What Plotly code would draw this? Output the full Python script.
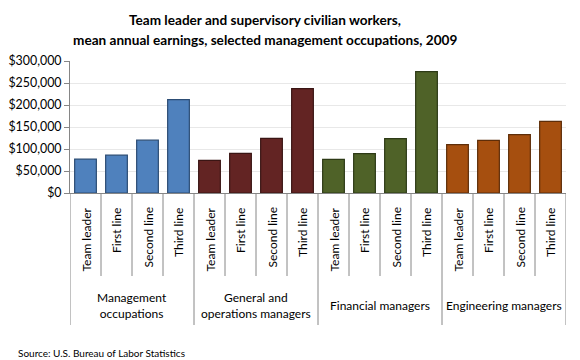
import plotly.graph_objects as go

groups = ["Management<br>occupations", "General and<br>operations managers",
          "Financial managers", "Engineering managers"]
levels = ["Team leader", "First line", "Second line", "Third line"]
colors = ["#4F81BD", "#632423", "#4F6228", "#A64F0F"]
edge_colors = ["#2C4D75", "#3A1514", "#2D3A16", "#5E2D08"]

earnings = {
    "Management<br>occupations": [77000, 86000, 120000, 212000],
    "General and<br>operations managers": [74000, 90000, 124000, 237000],
    "Financial managers": [76500, 89500, 123500, 276000],
    "Engineering managers": [110000, 119500, 132500, 163000],
}

yticks = [0, 50000, 100000, 150000, 200000, 250000, 300000]

# The page body adds an 8px offset; the figure is laid out in shifted pixels.
OFF = 8
W, H = 580 - OFF, 360 - OFF
PL, PR, PT, PB = 70 - OFF, 566 - OFF, 61 - OFF, 193 - OFF
PW, PH = PR - PL, PB - PT


def py(p):
    return (PB - (p - OFF)) / PH


def px(p):
    return ((p - OFF) - PL) / PW


fig = go.Figure()
n = len(levels)
for gi, g in enumerate(groups):
    xs = [gi * n + i for i in range(n)]
    fig.add_trace(go.Bar(
        x=xs, y=earnings[g], width=0.7,
        marker=dict(color=colors[gi], line=dict(color=edge_colors[gi], width=1.2)),
        showlegend=False, hoverinfo="y",
    ))

total = len(groups) * n
annotations = []
shapes = []
for gi, g in enumerate(groups):
    for i, lv in enumerate(levels):
        xi = gi * n + i
        annotations.append(dict(x=xi, y=py(206), xref="x", yref="paper", text=lv,
                                textangle=-90, showarrow=False, yanchor="top",
                                xanchor="center",
                                font=dict(family="Lato", size=12, color="#000")))
    annotations.append(dict(x=gi * n + (n - 1) / 2, y=py(305), xref="x", yref="paper",
                            text=g, showarrow=False, yanchor="middle",
                            xanchor="center",
                            font=dict(family="Lato", size=12, color="#000")))
for k in range(total + 1):
    xb = k - 0.5
    depth = py(325) if k % n == 0 else py(276)
    shapes.append(dict(type="line", xref="x", yref="paper", x0=xb, x1=xb,
                       y0=0, y1=depth, line=dict(color="#868686", width=1)))

title_lines = ["Team leader and supervisory civilian workers,",
               "mean annual earnings, selected management occupations, 2009"]
for line, yc in zip(title_lines, [20, 40]):
    annotations.append(dict(x=px(265), y=py(yc), xref="paper", yref="paper",
                            text="<b>" + line + "</b>", showarrow=False,
                            xanchor="center", yanchor="middle",
                            font=dict(family="Lato", size=13.6, color="#000")))

annotations.append(dict(x=px(16), y=py(353), xref="paper", yref="paper",
                        showarrow=False,
                        text="Source: U.S. Bureau of Labor Statistics",
                        font=dict(family="Lato", size=10, color="#000"),
                        xanchor="left", yanchor="middle"))

fig.update_layout(
    width=W, height=H,
    margin=dict(l=PL, r=W - PR, t=PT, b=H - PB, autoexpand=False),
    paper_bgcolor="white", plot_bgcolor="white",
    xaxis=dict(range=[-0.5, total - 0.5], showticklabels=False, showgrid=False,
               zeroline=False, showline=True, linecolor="#868686", linewidth=1,
               ticks=""),
    yaxis=dict(range=[0, 300000], tickvals=yticks, tickformat="$,.0f",
               showgrid=True, gridcolor="#E8E8E8", gridwidth=1, zeroline=False,
               showline=True, linecolor="#868686", linewidth=1,
               ticks="outside", ticklen=5, tickcolor="#868686",
               tickfont=dict(family="Lato", size=12.4, color="#000")),
    annotations=annotations, shapes=shapes,
)

fig.write_html("out.html")
